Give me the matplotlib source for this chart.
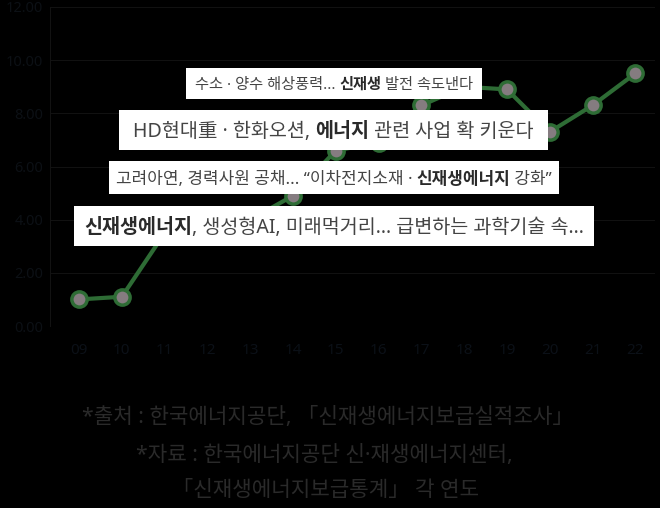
import matplotlib
matplotlib.use("Agg")
import matplotlib.pyplot as plt
from matplotlib.patches import Rectangle

# 라틴 문자는 Noto Sans, 한글은 Noto Sans CJK KR
plt.rcParams['font.family'] = ['Noto Sans', 'Noto Sans CJK KR', 'DejaVu Sans']

# 데이터
years = ['09', '10', '11', '12', '13', '14', '15', '16', '17', '18', '19', '20', '21', '22']
values = [1.0, 1.1, 3.5, 3.7, 4.0, 4.9, 6.6, 6.9, 8.3, 9.0, 8.9, 7.3, 8.3, 9.5]
y_ticks = [0, 2, 4, 6, 8, 10, 12]
y_labels = ['0.00', '2.00', '4.00', '6.00', '8.00', '10.00', '12.00']

# 헤드라인 (텍스트, 굵게)
head1 = [("수소 · 양수 해상풍력... ", False), ("신재생", True), (" 발전 속도낸다", False)]
head2 = [("HD현대重 · 한화오션, ", False), ("에너지", True), (" 관련 사업 확 키운다", False)]
head3 = [("고려아연, 경력사원 공채... “이차전지소재 · ", False), ("신재생에너지", True), (" 강화”", False)]
head4 = [("신재생에너지", True), (", 생성형AI, 미래먹거리... 급변하는 과학기술 속...", False)]
headlines = [head1, head2, head3, head4]

footer = ["*출처 : 한국에너지공단, 「신재생에너지보급실적조사」",
          "*자료 : 한국에너지공단 신·재생에너지센터,",
          "「신재생에너지보급통계」 각 연도"]

W, H = 660, 508
fig = plt.figure(figsize=(W / 100, H / 100), dpi=100)
fig.patch.set_facecolor('black')


def px(x, y):
    return x / W, 1 - y / H


ax = fig.add_axes([50 / W, 1 - 326 / H, 605 / W, 319 / H])
ax.set_facecolor('black')
xs = list(range(len(years)))
ax.plot(xs, values, color='#2e6c35', lw=3, marker='o', ms=11,
        mfc='#857c80', mec='#2e6c35', mew=2.5, zorder=3, clip_on=False)
ax.set_xlim(-0.68, 13.46)
ax.set_ylim(0, 12)
ax.set_xticks(xs)
ax.set_xticklabels(years, color='#0b1017', fontsize=11)
ax.set_yticks(y_ticks)
ax.set_yticklabels(y_labels, color='#0c1015', fontsize=10.5)
ax.tick_params(axis='x', length=0, pad=12)
ax.tick_params(axis='y', length=0, pad=5)
ax.grid(axis='y', color='#111111', lw=0.8)
for s in ['top', 'right', 'bottom']:
    ax.spines[s].set_visible(False)
ax.spines['left'].set_color('#121212')

# 헤드라인 박스 (x0, y0, x1, y1, 글자크기)
boxes = [(186, 68, 482, 99, 11.0),
         (119, 110, 548, 150, 14.1),
         (109, 161, 559, 194, 12.2),
         (74, 206, 594, 246, 14.1)]

renderer = fig.canvas.get_renderer()


def run_width(s, size, bold):
    t1 = fig.text(0, 0, "|" + s + "|", fontsize=size, fontweight='bold' if bold else 'normal')
    t2 = fig.text(0, 0, "||", fontsize=size, fontweight='bold' if bold else 'normal')
    w = t1.get_window_extent(renderer).width - t2.get_window_extent(renderer).width
    t1.remove()
    t2.remove()
    return w


for runs, (x0, y0, x1, y1, size) in zip(headlines, boxes):
    fig.patches.append(Rectangle(px(x0, y1), (x1 - x0) / W, (y1 - y0) / H,
                                 transform=fig.transFigure, facecolor='white',
                                 edgecolor='none', zorder=5))
    widths = [run_width(s, size, b) for s, b in runs]
    em = size * 100 / 72
    x = (x0 + x1) / 2 - sum(widths) / 2
    base = (y0 + y1) / 2 + 0.36 * em
    for (s, b), w in zip(runs, widths):
        fig.text(*px(x, base), s, fontsize=size, fontweight='bold' if b else 'normal',
                 color='#2a2a2a' if b else '#444444', ha='left', va='baseline', zorder=6)
        x += w

for line, xx, yy in zip(footer, [328, 324, 326], [418, 456, 490]):
    fig.text(*px(xx, yy), line, fontsize=15.3, color='#2a2a2a', ha='center', va='center')

fig.savefig('out.png', dpi=100, facecolor='black')
